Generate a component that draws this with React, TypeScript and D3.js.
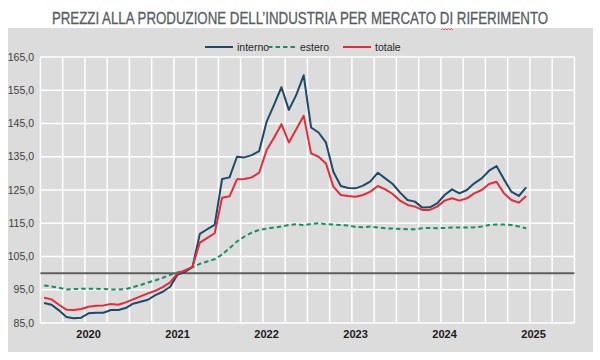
import React, { useRef, useLayoutEffect, useState } from 'react';
import * as d3 from 'd3';

// anni sull'asse x (serie mensili da gen 2020)
const years = ['2020', '2021', '2022', '2023', '2024', '2025'];
const yTicks = [85, 95, 105, 115, 125, 135, 145, 155, 165];

const interno = [
  91.0, 90.5, 88.8, 86.8, 86.4, 86.6, 87.9, 88.1, 88.1, 88.9, 88.9, 89.5,
  90.8, 91.4, 92.0, 93.4, 94.4, 95.9, 99.6, 100.4, 101.8, 111.8, 113.2, 114.5,
  128.3, 128.8, 135.0, 134.8, 135.5, 136.7, 145.5, 150.6, 155.9, 149.1, 153.6, 159.5,
  143.8, 142.3, 139.3, 130.5, 126.2, 125.6, 125.5, 126.3, 127.6, 130.2, 128.5, 126.8,
  124.2, 122.0, 121.5, 119.7, 119.8, 121.0, 123.5, 125.2, 124.0, 125.0, 127.0, 128.5,
  130.8, 132.2, 128.2, 124.5, 123.2, 125.8,
];
const estero = [
  96.3, 96.0, 95.6, 95.1, 95.2, 95.3, 95.3, 95.3, 95.2, 95.1, 95.1, 95.2,
  95.8, 96.4, 97.2, 97.8, 98.6, 99.5, 100.2, 100.8, 101.8, 102.8, 103.5, 104.2,
  105.6, 107.5, 109.5, 111.0, 112.2, 113.0, 113.4, 113.7, 114.0, 114.5, 114.7, 114.4,
  114.8, 115.0, 114.7, 114.6, 114.5, 114.3, 113.9, 113.8, 114.0, 113.7, 113.5, 113.4,
  113.3, 113.2, 113.2, 113.5, 113.6, 113.5, 113.6, 113.7, 113.7, 113.7, 113.8, 114.0,
  114.5, 114.6, 114.6, 114.5, 114.0, 113.5,
];
const totale = [
  92.6, 92.1, 90.5, 89.0, 88.9, 89.2, 89.9, 90.2, 90.3, 90.7, 90.5, 91.2,
  92.1, 93.0, 93.9, 94.7, 95.8, 97.2, 100.0, 100.8, 101.9, 109.2, 110.6, 112.0,
  122.7, 123.1, 128.2, 128.3, 128.8, 130.2, 137.0, 140.7, 144.8, 139.3, 143.3, 147.3,
  136.0, 135.0, 133.0, 126.0, 123.5, 123.2, 123.0, 123.5, 124.5, 126.2, 125.2, 123.8,
  121.8, 120.5, 120.0, 119.0, 119.0, 120.0, 121.8, 122.5, 121.8, 122.5, 124.0, 125.0,
  126.8, 127.5, 124.0, 122.0, 121.2, 123.2,
];

const W = 600, H = 360;
const m = { l: 40.4, r: 574.4, t: 57, b: 323 };
const narrow = '"Liberation Sans Narrow", "Arial Narrow", "Liberation Sans", Arial, sans-serif';
const titleWidth = 496;

export default function App() {
  const titleRef = useRef<SVGTextElement>(null);
  const [sx, setSx] = useState(0.8);
  useLayoutEffect(() => {
    const len = titleRef.current ? titleRef.current.getComputedTextLength() : 0;
    if (len > 0) setSx(titleWidth / len);
  }, []);

  const months = years.flatMap(y => d3.range(12).map(k => `${y}-${k}`));
  const x = d3.scaleBand().domain(months).range([m.l, m.r]).padding(0);
  const y = d3.scaleLinear().domain([85, 165]).range([m.b, m.t]);
  const cx = (i: number) => (x(months[i]) as number) + x.bandwidth() / 2;

  const line = d3.line<number>().x((_, i) => cx(i)).y(d => y(d));

  const series = [
    { name: 'interno', vals: interno, color: '#1c4a6b', dash: null },
    { name: 'estero', vals: estero, color: '#16905f', dash: '4.5,3' },
    { name: 'totale', vals: totale, color: '#e52b3a', dash: null },
  ];
  const legendX = [205, 268, 343];

  const vGrid = d3.range(0, months.length + 1, 3).map(i =>
    i < months.length ? (x(months[i]) as number) : m.r);

  return (
    <svg width={W} height={H} style={{ position: 'absolute', left: 0, top: 0 }}>
      <rect x={0} y={0} width={W} height={H} fill="#fff" />
      <rect x={8} y={28} width={585} height={324} fill="#dcdcdc" />
      <text ref={titleRef} transform={`translate(300,24) scale(${sx},1)`} textAnchor="middle"
        fontFamily={narrow} fontSize={17} fill="#555b61" stroke="#555b61" strokeWidth={0.3}>
        PREZZI ALLA PRODUZIONE DELL’INDUSTRIA PER MERCATO DI RIFERIMENTO
      </text>
      <path d="M441,30 l1.5,-1.5 l1.5,1.5 l1.5,-1.5 l1.5,1.5 l1.5,-1.5 l1.5,1.5 l1.5,-1.5 l1.5,1.5"
        fill="none" stroke="#e0403a" strokeWidth={0.8} />

      {yTicks.map(t => (
        <g key={t}>
          <line x1={m.l} x2={m.r} y1={y(t)} y2={y(t)} stroke="#fff" strokeWidth={1.5} />
          <text x={34} y={y(t)} dy="0.35em" textAnchor="end" fontFamily={narrow}
            fontSize={10.5} fill="#404040">{d3.format('.1f')(t).replace('.', ',')}</text>
        </g>
      ))}
      {vGrid.map((gx, i) => (
        <line key={i} x1={gx} x2={gx} y1={m.t} y2={m.b} stroke="#fff" strokeWidth={1.5} />
      ))}
      <line x1={m.l} x2={m.r} y1={y(100)} y2={y(100)} stroke="#5f5f5f" strokeWidth={2} />

      {years.map((yr, k) => (
        <text key={yr} x={cx(k * 12 + 6)} y={338} textAnchor="middle" fontFamily={narrow}
          fontSize={11} fontWeight="bold" fill="#1a1a1a">{yr}</text>
      ))}

      {series.map(s => (
        <path key={s.name} d={line(s.vals) as string} fill="none" stroke={s.color}
          strokeWidth={2} strokeDasharray={s.dash ?? undefined} strokeLinejoin="round" />
      ))}

      {series.map((s, k) => (
        <g key={s.name} transform={`translate(${legendX[k]},47)`}>
          <line x1={0} x2={28} y1={0} y2={0} stroke={s.color} strokeWidth={2}
            strokeDasharray={s.dash ?? undefined} />
          <text x={32} y={0} dy="0.35em" fontFamily={narrow} fontSize={10.5}
            fill="#262626">{s.name}</text>
        </g>
      ))}
    </svg>
  );
}
